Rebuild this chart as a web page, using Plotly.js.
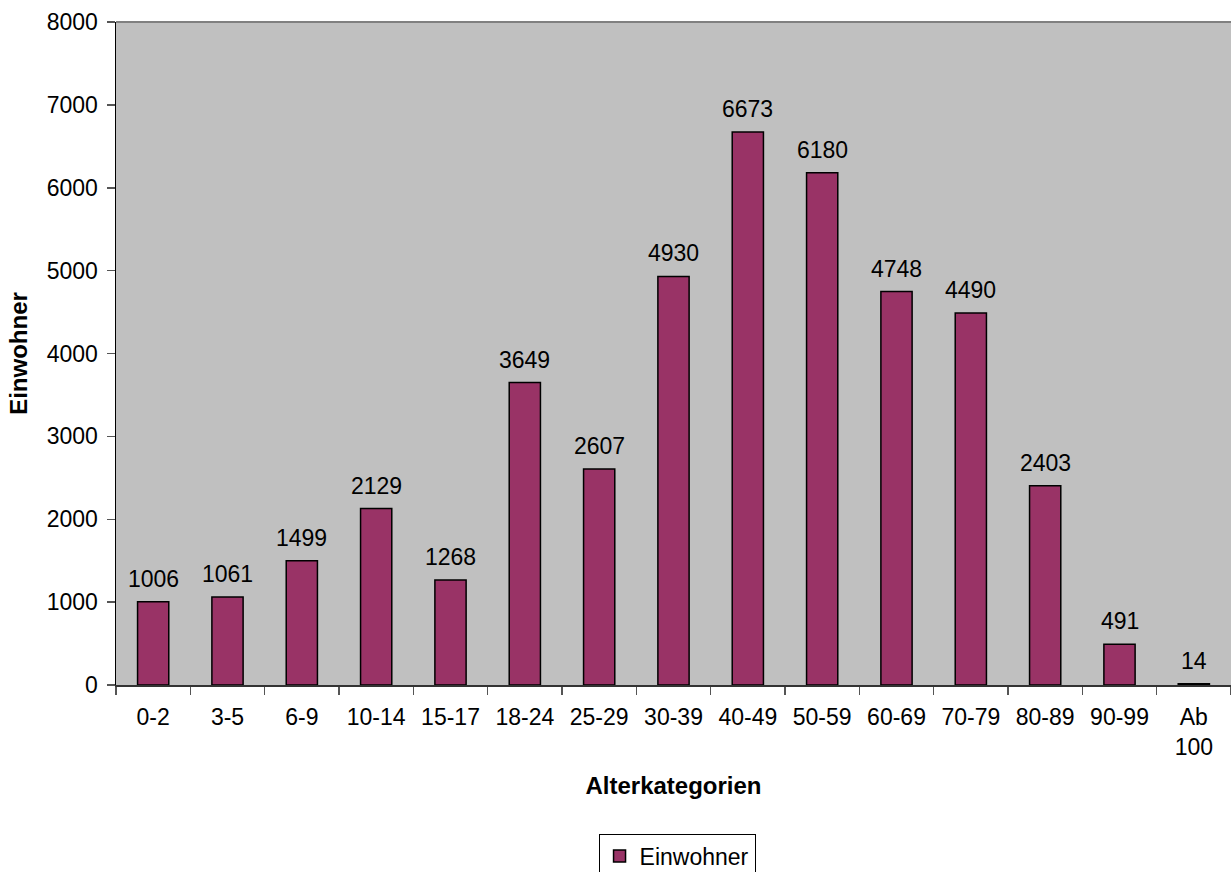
<!DOCTYPE html>
<html>
<head>
<meta charset="utf-8">
<script src="https://cdn.plot.ly/plotly-3.0.1.min.js"></script>
<style>
  html, body { margin: 0; padding: 0; background: #ffffff; }
  #chart { width: 1231px; height: 872px; }
</style>
</head>
<body>
<div id="chart"></div>
<script>
const categories = ["0-2", "3-5", "6-9", "10-14", "15-17", "18-24", "25-29", "30-39", "40-49", "50-59", "60-69", "70-79", "80-89", "90-99", "Ab<br>100"];
const einwohner = [1006, 1061, 1499, 2129, 1268, 3649, 2607, 4930, 6673, 6180, 4748, 4490, 2403, 491, 14];
const yTicks = [0, 1000, 2000, 3000, 4000, 5000, 6000, 7000, 8000];

const FONT = "Liberation Sans, Arial, sans-serif";
const FS = 23;

const trace = {
  type: "bar",
  name: "Einwohner",
  x: categories,
  y: einwohner,
  marker: { color: "#993366", line: { color: "#000000", width: 1.5 } },
  hoverinfo: "x+y"
};

const labels = categories.map((c, i) => ({
  x: c, y: einwohner[i], xref: "x", yref: "y",
  text: String(einwohner[i]),
  showarrow: false, yanchor: "bottom", yshift: 8,
  font: { family: FONT, size: FS, color: "#000000" }
}));

const layout = {
  width: 1231, height: 872,
  margin: { l: 116, r: 0, t: 22, b: 187 },
  paper_bgcolor: "#ffffff",
  plot_bgcolor: "#C0C0C0",
  font: { family: FONT, size: FS, color: "#000000" },
  bargap: 0.58,
  showlegend: true,
  legend: {
    orientation: "h",
    xref: "container", yref: "container",
    x: 0.55, xanchor: "center",
    y: 0.044, yanchor: "top",
    bordercolor: "#000000", borderwidth: 1,
    bgcolor: "#ffffff",
    font: { family: FONT, size: FS, color: "#000000" }
  },
  xaxis: {
    type: "category",
    showline: true, linecolor: "#333333", linewidth: 1.5,
    ticks: "outside", tickson: "boundaries", ticklen: 8, tickcolor: "#555555", tickwidth: 1.5,
    ticklabelstandoff: 11,
    showgrid: false,
    tickfont: { family: FONT, size: FS, color: "#000000" },
    title: { text: "<b>Alterkategorien</b>", standoff: 18, font: { family: FONT, size: 24, color: "#000000" } }
  },
  yaxis: {
    range: [0, 8000],
    tickvals: yTicks,
    ticktext: yTicks.map(String),
    showline: true, linecolor: "#000000", linewidth: 1.5,
    ticks: "outside", ticklen: 8, tickcolor: "#555555", tickwidth: 1.5,
    ticklabelstandoff: 4,
    showgrid: false, zeroline: false,
    tickfont: { family: FONT, size: FS, color: "#000000" },
    title: { text: "<b>Einwohner</b>", standoff: 12, font: { family: FONT, size: 24, color: "#000000" } }
  },
  shapes: [{
    type: "line", xref: "paper", yref: "paper",
    x0: 0, x1: 1, y0: 1, y1: 1,
    line: { color: "#808080", width: 2 }
  }],
  annotations: labels
};

Plotly.newPlot("chart", [trace], layout, { displayModeBar: false, staticPlot: true });
</script>
</body>
</html>
